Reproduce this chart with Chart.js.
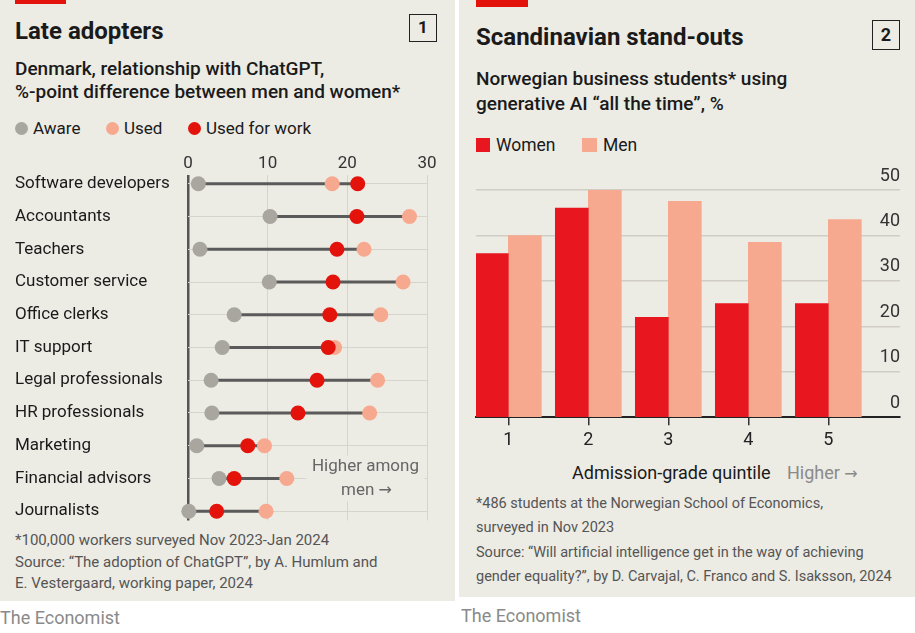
<!DOCTYPE html>
<html>
<head>
<meta charset="utf-8">
<script src="https://cdn.jsdelivr.net/npm/chart.js@4.4.1/dist/chart.umd.min.js"></script>
<style>
body { margin: 0; width: 915px; height: 633px; background: #fff; font-family: Roboto, sans-serif; position: relative; overflow: hidden; color: #1a1a1a; }
.panel { position: absolute; top: 0; background: #ecebe4; }
.abs { position: absolute; white-space: nowrap; }
.title { font-weight: 700; }
.sub { font-weight: 500; }
.box { position: absolute; border: 1.6px solid #222; box-sizing: border-box; font-weight: 700; text-align: center; }
.note { color: #555; }
.brand { color: #8a8a8a; font-size: 18px; }
.arrow { font-family: "DejaVu Sans", sans-serif; font-size: 16px; }
canvas { position: absolute; }
</style>
</head>
<body>
<div class="panel" style="left:0;width:455px;height:601px"></div>
<div class="panel" style="left:459px;width:456px;height:597px"></div>

<!-- left panel text -->
<div class="abs" style="left:15px;top:0;width:51px;height:4px;background:#e3120b"></div>
<div class="abs title" style="left:15px;top:15.5px;font-size:24px;line-height:30px">Late adopters</div>
<div class="box" style="left:409px;top:14px;width:28px;height:28px;font-size:17px;line-height:25px">1</div>
<div class="abs sub" style="left:15px;top:56.5px;font-size:19px;line-height:23.5px">Denmark, relationship with ChatGPT,<br>%-point difference between men and women*</div>
<div class="abs" style="left:15px;top:121.5px;width:13px;height:13px;border-radius:50%;background:#a8a69e"></div>
<div class="abs" style="left:33px;top:117px;font-size:17px;line-height:22px">Aware</div>
<div class="abs" style="left:106px;top:121.5px;width:13px;height:13px;border-radius:50%;background:#f7a98f"></div>
<div class="abs" style="left:124px;top:117px;font-size:17px;line-height:22px">Used</div>
<div class="abs" style="left:188px;top:121.5px;width:13px;height:13px;border-radius:50%;background:#e3120b"></div>
<div class="abs" style="left:206px;top:117px;font-size:17px;line-height:22px">Used for work</div>
<div class="abs note" style="left:15px;top:530px;font-size:15px;line-height:21.5px">*100,000 workers surveyed Nov 2023-Jan 2024<br>Source: “The adoption of ChatGPT”, by A. Humlum and<br>E. Vestergaard, working paper, 2024</div>
<div class="abs brand" style="left:0;top:607px;line-height:22px">The Economist</div>

<!-- right panel text -->
<div class="abs" style="left:476px;top:0;width:52px;height:7px;background:#e3120b"></div>
<div class="abs title" style="left:476px;top:22px;font-size:24px;line-height:31px">Scandinavian stand-outs</div>
<div class="box" style="left:872px;top:20px;width:28px;height:30px;font-size:18px;line-height:27px">2</div>
<div class="abs sub" style="left:476px;top:66px;font-size:19px;line-height:25px">Norwegian business students* using<br>generative AI “all the time”, %</div>
<div class="abs" style="left:476px;top:138px;width:14px;height:14px;background:#e8161e"></div>
<div class="abs" style="left:496px;top:134px;font-size:17.5px;line-height:22px">Women</div>
<div class="abs" style="left:582px;top:138px;width:15px;height:14px;background:#f7a98f"></div>
<div class="abs" style="left:603px;top:134px;font-size:17.5px;line-height:22px">Men</div>
<div class="abs" style="left:572px;top:462px;font-size:18px;line-height:22px">Admission-grade quintile</div>
<div class="abs" style="left:787px;top:462px;font-size:18px;line-height:22px;color:#8a8a8a">Higher <span class="arrow">→</span></div>
<div class="abs note" style="left:476px;top:492px;font-size:14.5px;line-height:24.3px">*486 students at the Norwegian School of Economics,<br>surveyed in Nov 2023<br>Source: “Will artificial intelligence get in the way of achieving<br>gender equality?”, by D. Carvajal, C. Franco and S. Isaksson, 2024</div>
<div class="abs brand" style="left:461px;top:605px;line-height:22px">The Economist</div>

<canvas id="dotChart" style="left:0;top:140px" width="455" height="400"></canvas>
<canvas id="barChart" style="left:459px;top:150px" width="456" height="350"></canvas>

<script>
// chart 1: Denmark, %-point gap men minus women
const occupations = ["Software developers", "Accountants", "Teachers", "Customer service",
    "Office clerks", "IT support", "Legal professionals", "HR professionals",
    "Marketing", "Financial advisors", "Journalists"];
const aware = [1.3, 10.3, 1.5, 10.2, 5.8, 4.3, 2.9, 3.0, 1.1, 3.9, 0.1];
const used = [18.1, 27.8, 22.1, 27.0, 24.2, 18.4, 23.8, 22.8, 9.6, 12.4, 9.8];
const usedForWork = [21.3, 21.2, 18.7, 18.2, 17.8, 17.6, 16.2, 13.8, 7.5, 5.8, 3.6];
const gapTicks = [0, 10, 20, 30];

// chart 2: Norwegian business students, %
const quintiles = [1, 2, 3, 4, 5];
const women = [36, 46, 22, 25, 25];
const men = [40, 50, 47.5, 38.5, 43.5];
const shareTicks = [0, 10, 20, 30, 40, 50];

const BG = "#ecebe4";
const RED = "#e3120b";
const SALMON = "#f7a98f";
const GREY = "#a8a69e";

Chart.defaults.font.family = "Roboto";
Chart.defaults.animation = false;
Chart.defaults.plugins.legend.display = false;
Chart.defaults.plugins.tooltip.enabled = false;

const toPoints = vals => vals.map((v, i) => ({ x: v, y: i }));

const connectors = occupations.map((o, i) => ({
    data: [
        { x: Math.min(aware[i], used[i], usedForWork[i]), y: i },
        { x: Math.max(aware[i], used[i], usedForWork[i]), y: i }
    ],
    showLine: true,
    borderColor: "#5a5a5a",
    borderWidth: 3,
    pointRadius: 0,
    order: 10,
    clip: false
}));

const dotStyle = (vals, color, order) => ({
    data: toPoints(vals),
    backgroundColor: color,
    borderWidth: 0,
    pointRadius: 7.5,
    order: order,
    clip: false
});

const menNote = {
    id: "menNote",
    beforeDatasetsDraw(chart) {
        const { ctx, scales: { x, y } } = chart;
        const cx = x.getPixelForValue(22.4);
        const cy = y.getPixelForValue(9);
        ctx.save();
        ctx.fillStyle = BG;
        ctx.fillRect(cx - 60, cy - 23, 118, 46);
        ctx.fillStyle = "#666";
        ctx.textBaseline = "middle";
        ctx.font = "17px Roboto";
        ctx.textAlign = "center";
        ctx.fillText("Higher among", cx - 1, cy - 11.5);
        ctx.textAlign = "left";
        const w1 = ctx.measureText("men ").width;
        ctx.font = "16px 'DejaVu Sans'";
        const w2 = ctx.measureText("→").width;
        const start = cx - (w1 + w2) / 2;
        ctx.fillText("→", start + w1, cy + 12);
        ctx.font = "17px Roboto";
        ctx.fillText("men ", start, cy + 12);
        ctx.restore();
    }
};

new Chart(document.getElementById("dotChart"), {
    type: "scatter",
    data: {
        datasets: [
            dotStyle(usedForWork, RED, 1),
            dotStyle(used, SALMON, 2),
            dotStyle(aware, GREY, 3),
            ...connectors
        ]
    },
    options: {
        responsive: false,
        layout: { padding: { left: 15, right: 28, top: 4.6, bottom: 19.6 } },
        scales: {
            x: {
                type: "linear",
                position: "top",
                min: 0,
                max: 30,
                afterBuildTicks: s => { s.ticks = gapTicks.map(v => ({ value: v })); },
                afterFit: s => { s.height = 30; },
                ticks: { font: { size: 17 }, color: "#333", padding: 1 },
                grid: {
                    drawTicks: false,
                    color: c => c.tick && c.tick.value === 0 ? "#555" : "#d6d4cc",
                    lineWidth: c => c.tick && c.tick.value === 0 ? 2.5 : 1
                },
                border: { display: false }
            },
            y: {
                type: "linear",
                reverse: true,
                min: -0.28,
                max: 10.28,
                afterBuildTicks: s => { s.ticks = occupations.map((o, i) => ({ value: i })); },
                afterFit: s => { s.width = 173; },
                ticks: {
                    callback: v => occupations[v],
                    font: { size: 17 },
                    color: "#1a1a1a",
                    crossAlign: "far",
                    padding: 0,
                    autoSkip: false
                },
                grid: { drawTicks: false, color: "#d6d4cc" },
                border: { display: false }
            }
        }
    },
    plugins: [menNote]
});

new Chart(document.getElementById("barChart"), {
    type: "bar",
    data: {
        datasets: [
            { label: "Women", data: quintiles.map((q, i) => ({ x: q, y: women[i] })), backgroundColor: "#e8161e", barThickness: 33 },
            { label: "Men", data: quintiles.map((q, i) => ({ x: q, y: men[i] })), backgroundColor: SALMON, barThickness: 33 }
        ]
    },
    options: {
        responsive: false,
        layout: { padding: { left: 17, right: 15, top: 40, bottom: 42.7 } },
        scales: {
            x: {
                type: "linear",
                min: 0.596,
                max: 5.896,
                offset: false,
                z: 1,
                afterBuildTicks: s => { s.ticks = quintiles.map(v => ({ value: v })); },
                afterFit: s => { s.height = 40; },
                ticks: { callback: v => String(v), font: { size: 18 }, color: "#222", padding: 4 },
                grid: { offset: false, drawOnChartArea: false, drawTicks: true, tickLength: 8, color: "#333", lineWidth: 1.5 },
                border: { display: true, color: "#222", width: 2 }
            },
            y: {
                position: "right",
                min: 0,
                max: 50,
                afterBuildTicks: s => { s.ticks = shareTicks.map(v => ({ value: v })); },
                afterFit: s => { s.width = 0; },
                ticks: { mirror: true, padding: 0, labelOffset: -14, font: { size: 18 }, color: "#333" },
                grid: {
                    drawTicks: false,
                    color: c => c.tick && c.tick.value === 0 ? "rgba(0,0,0,0)" : "#cfcdc5",
                    lineWidth: 1.5
                },
                border: { display: false }
            }
        }
    }
});
</script>
</body>
</html>
